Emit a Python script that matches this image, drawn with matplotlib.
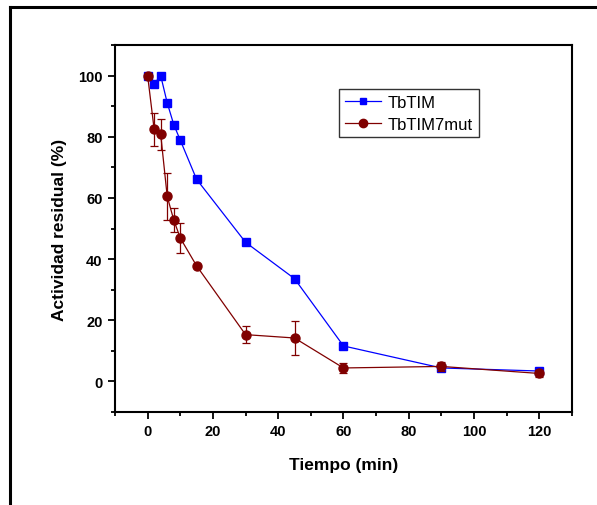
import numpy as np
import matplotlib
matplotlib.use('Agg')
import matplotlib.pyplot as plt
from matplotlib.lines import Line2D
from matplotlib.ticker import MultipleLocator

plt.rcParams['font.family'] = ['Liberation Sans', 'DejaVu Sans']

# Time points (min)
t = [0, 2, 4, 6, 8, 10, 15, 30, 45, 60, 90, 120]

# Residual activity (%)
tbtim = [100, 97.3, 100, 91.1, 84.0, 78.9, 66.1, 45.5, 33.6, 11.6, 4.4, 3.4]
tbtim7mut = [100, 82.4, 80.8, 60.5, 52.8, 46.9, 37.8, 15.3, 14.2, 4.4, 4.9, 2.6]
tbtim7mut_err = [0, 5.5, 5.0, 7.7, 4.0, 5.0, 0, 2.7, 5.5, 1.5, 1.5, 1.0]

fig = plt.figure(figsize=(5.97, 5.06), dpi=100)
ax = fig.add_axes([0.1926, 0.1838, 0.7655, 0.7252])

blue = '#0000FF'
red = '#800000'

ax.plot(t, tbtim, color=blue, marker='s', markersize=5.5, lw=0.9,
        label='TbTIM', zorder=3)
ax.errorbar(t, tbtim7mut, yerr=tbtim7mut_err, color=red, marker='o',
            markersize=6.5, lw=0.9, capsize=3, elinewidth=0.9, capthick=0.9,
            label='TbTIM7mut', zorder=4)

ax.set_xlim(-10, 130)
ax.set_ylim(-10, 110)
ax.xaxis.set_major_locator(MultipleLocator(20))
ax.xaxis.set_minor_locator(MultipleLocator(10))
ax.yaxis.set_major_locator(MultipleLocator(20))
ax.yaxis.set_minor_locator(MultipleLocator(10))
ax.tick_params(which='major', direction='out', length=5, width=1.3, labelsize=10.5, pad=4)
ax.tick_params(which='minor', direction='out', length=3, width=1.3)
for lab in ax.get_xticklabels() + ax.get_yticklabels():
    lab.set_fontweight('bold')
for s in ax.spines.values():
    s.set_linewidth(1.5)

ax.set_xlabel('Tiempo (min)', fontsize=12.5, fontweight='bold', labelpad=13)
ax.set_ylabel('Actividad residual (%)', fontsize=12.5, fontweight='bold', labelpad=8)

handles = [Line2D([], [], color=blue, marker='s', markersize=5, lw=0.9),
           Line2D([], [], color=red, marker='o', markersize=6, lw=0.9)]
leg = ax.legend(handles, ['TbTIM', 'TbTIM7mut'], loc='upper left',
                bbox_to_anchor=(0.49, 0.88), fontsize=12, frameon=True,
                fancybox=False, edgecolor='black', handlelength=2.2,
                borderpad=0.35, labelspacing=0.4, handletextpad=0.4,
                borderaxespad=0)
leg.get_frame().set_linewidth(1.0)

# outer frame (top and left only)
fig.add_artist(Line2D([10/597, 1.0], [1 - 8/506, 1 - 8/506], color='black', lw=2.2,
                      transform=fig.transFigure))
fig.add_artist(Line2D([10/597, 10/597], [0, 1 - 8/506], color='black', lw=2.2,
                      transform=fig.transFigure))

fig.savefig('out.png', dpi=100)
